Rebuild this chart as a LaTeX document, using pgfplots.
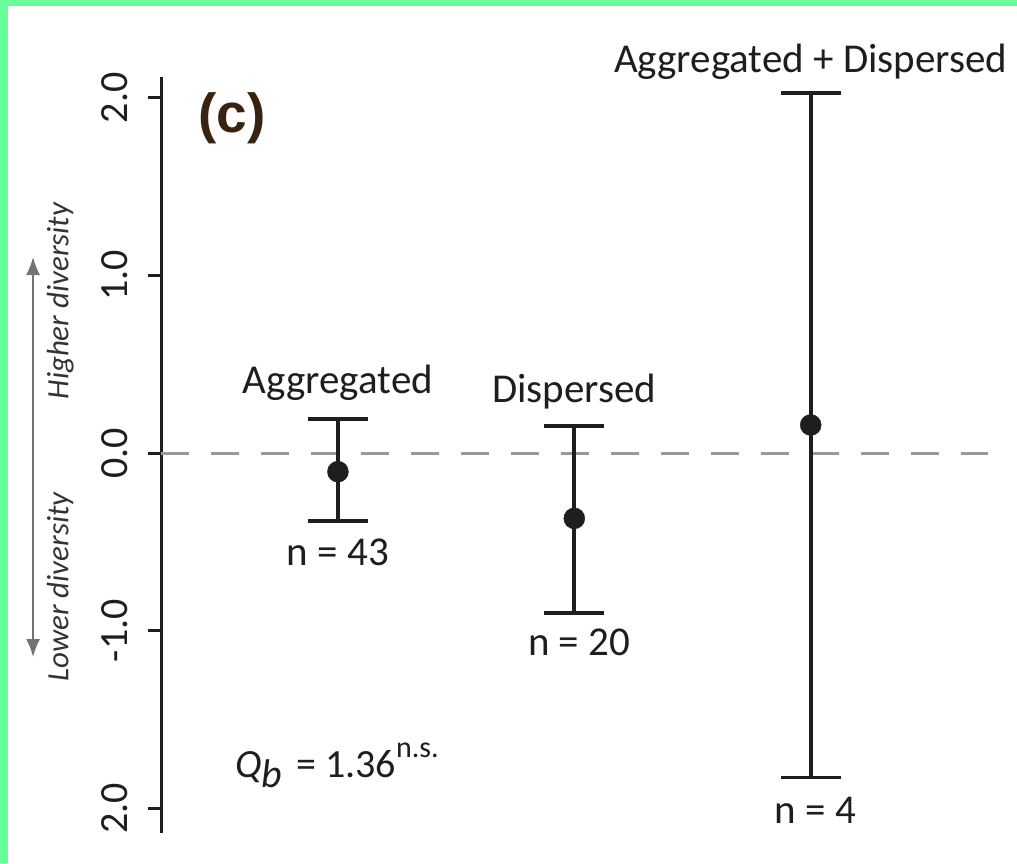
\documentclass[border=0pt]{standalone}
\usepackage{fontspec}
\setmainfont{Carlito}
\newfontfamily\arialfont{Liberation Sans}
\usepackage{pgfplots}
\pgfplotsset{compat=1.18}
\usetikzlibrary{arrows.meta}
\definecolor{frame}{RGB}{102,255,153}
\definecolor{ink}{RGB}{30,30,30}
\definecolor{clab}{RGB}{55,35,15}
\begin{document}
\begin{tikzpicture}[x=1pt,y=1pt]
\useasboundingbox (0,0) rectangle (1017,863);
\fill[white] (0,0) rectangle (1017,863);
\fill[frame] (0,0) rectangle (8,863);
\fill[frame] (0,857) rectangle (1017,863);
\begin{axis}[
  at={(161pt,30pt)}, anchor=south west,
  scale only axis, width=827pt, height=756pt,
  xmin=0.2516, xmax=3.75, ymin=-2.14, ymax=2.118,
  axis x line=none, axis y line*=left,
  y axis line style={line width=3pt, ink},
  ytick={-2,-1,0,1,2},
  yticklabels={2.0,-1.0,0.0,1.0,2.0},
  major tick length=13pt, tick align=outside,
  major tick style={line width=3pt, ink},
  yticklabel shift=17pt,
  yticklabel style={rotate=90, anchor=south, font=\fontsize{40}{48}\selectfont, text=ink},
  clip=false,
]
\addplot[black!40, line width=3pt, dash pattern=on 28pt off 22pt, forget plot] coordinates {(0.2516,0) (3.75,0)};
\addplot[only marks, mark=*, mark size=10.5pt, color=ink,
  error bars/.cd, y dir=both, y explicit,
  error bar style={line width=3.8pt, ink},
  error mark options={rotate=90, line width=3.8pt, mark size=30pt, ink}]
  table[x=x, y=y, y error plus=ep, y error minus=em] {
x y ep em
1 -0.105 0.295 0.276
2 -0.368 0.522 0.535
3 0.158 1.868 1.985
};
\node[anchor=base, font=\fontsize{41}{49}\selectfont, text=ink] at (axis cs:1,0.338) {Aggregated};
\node[anchor=base, font=\fontsize{41}{49}\selectfont, text=ink] at (axis cs:2,0.287) {Dispersed};
\node[anchor=base, font=\fontsize{41}{49}\selectfont, text=ink] at (axis cs:3,2.146) {Aggregated + Dispersed};
\node[anchor=base, font=\fontsize{41}{49}\selectfont, text=ink] at (axis cs:1,-0.631) {n = 43};
\node[anchor=base, font=\fontsize{41}{49}\selectfont, text=ink] at (axis cs:2.02,-1.138) {n = 20};
\node[anchor=base, font=\fontsize{41}{49}\selectfont, text=ink] at (axis cs:3.02,-2.085) {n = 4};
\node[anchor=base, font=\arialfont\fontsize{55}{64}\selectfont\bfseries, text=clab] at (axis cs:0.552,1.803) {(c)};
\node[anchor=base west, inner sep=0pt, font=\fontsize{40}{48}\selectfont, text=ink] at (axis cs:0.5645,-1.825)
  {\textit{Q}\raisebox{-10pt}{\textit{b}}\hspace{14pt}= 1.36\raisebox{20pt}{\fontsize{30}{36}\selectfont n.s.}};
\draw[black!55, line width=2pt, {Latex[length=18pt,width=14pt]}-{Latex[length=18pt,width=14pt]}]
  (axis cs:-0.2896,1.104) -- (axis cs:-0.2896,-1.149);
\node[rotate=90, font=\fontsize{31}{37}\selectfont\itshape, text=black!80] at (axis cs:-0.175,0.856) {Higher diversity};
\node[rotate=90, font=\fontsize{31}{37}\selectfont\itshape, text=black!80] at (axis cs:-0.175,-0.755) {Lower diversity};
\end{axis}
\end{tikzpicture}
\end{document}
